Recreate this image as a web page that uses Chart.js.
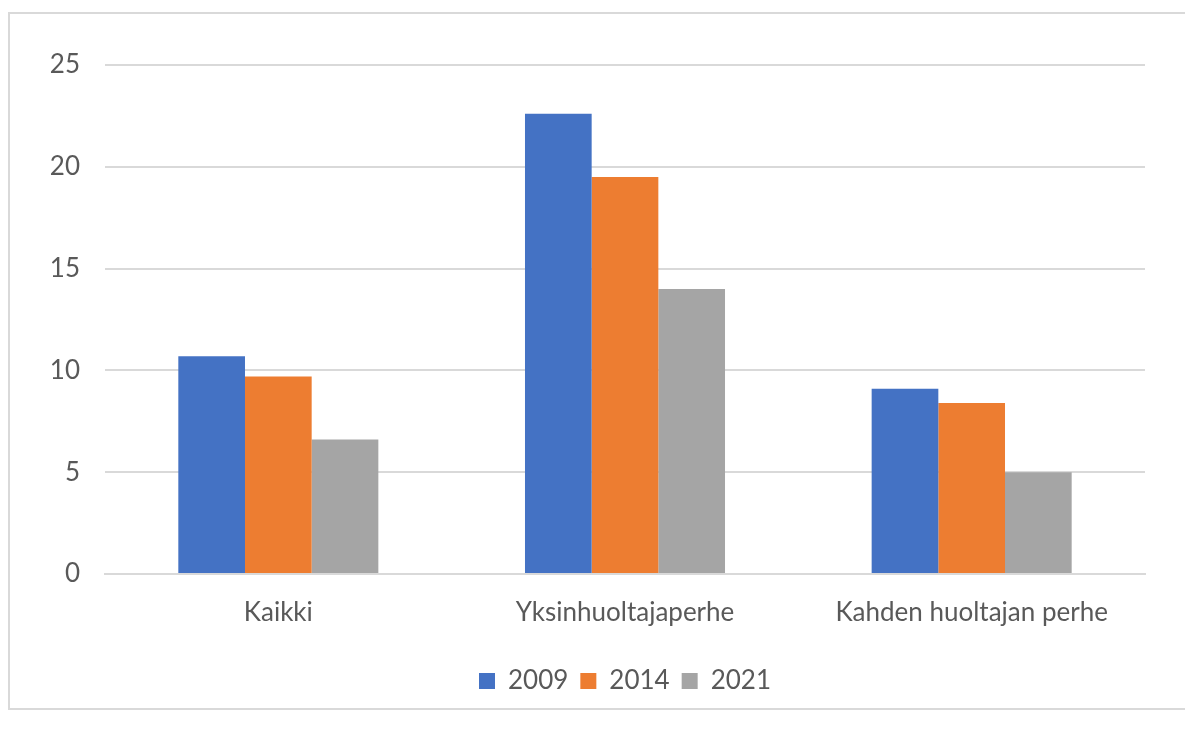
<!DOCTYPE html>
<html>
<head>
<meta charset="utf-8">
<script src="https://cdn.jsdelivr.net/npm/chart.js@4"></script>
<style>
  body { margin: 0; background: #fff; }
  #frame { position: absolute; left: 8px; top: 12px; width: 1200px; height: 694px; border: 2px solid #d9d9d9; }
  #myChart { position: absolute; left: 0; top: 0; }
</style>
</head>
<body>
<div id="frame"></div>
<canvas id="myChart" width="1185" height="735"></canvas>
<script>
const categories = ['Kaikki', 'Yksinhuoltajaperhe', 'Kahden huoltajan perhe']
const years = ['2009', '2014', '2021']
const values2009 = [10.7, 22.6, 9.1]
const values2014 = [9.7, 19.5, 8.4]
const values2021 = [6.6, 14.0, 5.0]
const yTicks = [0, 5, 10, 15, 20, 25]

const colors = ['#4472C4', '#ED7D31', '#A5A5A5']
const textColor = '#595959'
const font = { family: 'Lato, sans-serif', size: 26 }

const ctx = document.getElementById('myChart')

new Chart(ctx, {
  type: 'bar',
  data: {
    labels: categories,
    datasets: [values2009, values2014, values2021].map((d, i) => ({
      label: years[i],
      data: d,
      backgroundColor: colors[i],
      barPercentage: 1,
      categoryPercentage: 0.577
    }))
  },
  options: {
    responsive: false,
    animation: false,
    devicePixelRatio: 1,
    layout: { padding: { top: 65, right: 40, left: 0, bottom: 31 } },
    plugins: {
      tooltip: { enabled: false },
      legend: {
        position: 'bottom',
        fullSize: false,
        labels: { color: textColor, font: font, boxWidth: 16, boxHeight: 16, padding: 12 }
      }
    },
    scales: {
      y: {
        min: 0,
        max: 25,
        afterBuildTicks: s => { s.ticks = yTicks.map(v => ({ value: v })) },
        afterFit: s => { s.width = 105 },
        ticks: { color: textColor, font: font, padding: 25 },
        grid: { color: '#d9d9d9', lineWidth: 2, drawTicks: false },
        border: { display: false }
      },
      x: {
        afterFit: s => { s.height = 82 },
        ticks: { color: textColor, font: font, padding: 15 },
        grid: { display: false },
        border: { color: '#d9d9d9', width: 2 }
      }
    }
  }
})
</script>
</body>
</html>
